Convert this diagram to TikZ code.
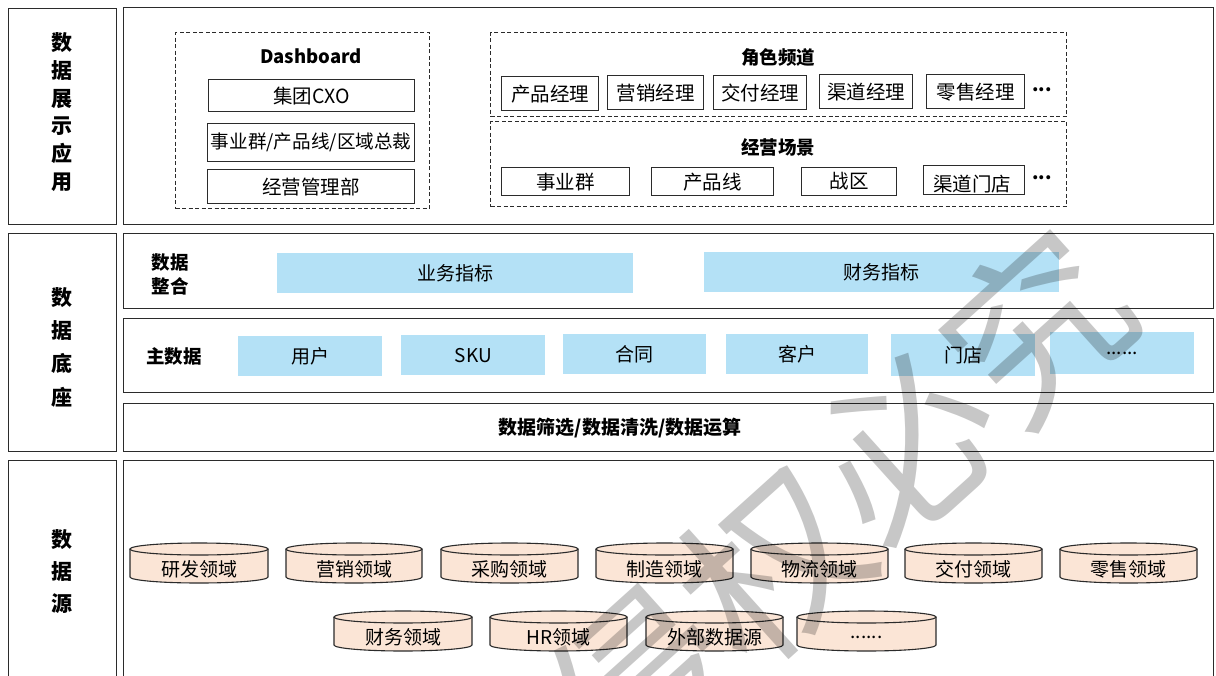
\documentclass[tikz,border=0pt]{standalone}
\usepackage{fontspec}
\setmainfont{Noto Sans CJK SC}
\definecolor{blueA}{HTML}{B4E1F6}
\definecolor{peach}{HTML}{FBE5D6}
\definecolor{edge}{HTML}{2B2B2B}
\newcommand{\dbcyl}[5]{%
  \pgfmathsetmacro{\cxa}{(#2+#3)/2}%
  \pgfmathsetmacro{\rxa}{(#3-#2)/2}%
  \pgfmathsetmacro{\yta}{#4+6}%
  \pgfmathsetmacro{\yba}{#4+34}%
  \pgfmathsetmacro{\yma}{#4+26}%
  \fill[peach] (#2,\yta) rectangle (#3,\yba);
  \fill[peach] (\cxa,\yba) ellipse [x radius=\rxa, y radius=6];
  \draw[cyledge] (#2,\yta) -- (#2,\yba) arc[start angle=180, end angle=0, x radius=\rxa, y radius=6] -- (#3,\yta);
  \draw[cyledge, fill=peach] (\cxa,\yta) ellipse [x radius=\rxa, y radius=6];
  \node[txt] (#1) at (\cxa,\yma) {#5};
}
\begin{document}
\begin{tikzpicture}[x=1pt, y=-1pt,
  panel/.style={draw=edge, line width=1.3pt, inner sep=0pt, anchor=north west},
  dashbox/.style={draw=edge, line width=1.1pt, dash pattern=on 4pt off 2.5pt, inner sep=0pt, anchor=north west},
  item/.style={draw=edge, line width=1.3pt, inner sep=0pt, anchor=north west, font=\fontsize{19.5}{21}\selectfont},
  bluebox/.style={fill=blueA, inner sep=0pt, anchor=north west, font=\fontsize{19}{21}\selectfont},
  txt/.style={inner sep=0pt, font=\fontsize{19}{21}\selectfont},
  btxt/.style={inner sep=0pt, font=\fontsize{18.5}{24}\selectfont\bfseries, align=center},
  side/.style={inner sep=0pt, align=center, font=\fontsize{21}{28}\selectfont\bfseries},
  cyledge/.style={draw=edge, line width=1.1pt}
]
\useasboundingbox (0,0) rectangle (1216,675);
\fill[white] (0,0) rectangle (1216,675);

% ---------- left labels column ----------
\node[panel, minimum width=108pt, minimum height=216pt] (L1) at (8,8) {};
\node[panel, minimum width=108pt, minimum height=218pt] (L2) at (8,233) {};
\node[panel, minimum width=108pt, minimum height=240pt] (L3) at (8,460) {};
\node[side, font=\fontsize{21}{27.8}\selectfont\bfseries] (t1) at (62,112) {数\\据\\展\\示\\应\\用};
\node[side, font=\fontsize{21}{33.3}\selectfont\bfseries] (t2) at (62,347) {数\\据\\底\\座};
\node[side, font=\fontsize{21}{32}\selectfont\bfseries] (t3) at (62,572) {数\\据\\源};

% ---------- right panels ----------
\node[panel, minimum width=1090pt, minimum height=217pt] (R1) at (123,7) {};
\node[panel, minimum width=1090pt, minimum height=75pt] (R2a) at (123,233) {};
\node[panel, minimum width=1090pt, minimum height=74pt] (R2b) at (123,318) {};
\node[panel, minimum width=1090pt, minimum height=48pt] (R2c) at (123,403) {};
\node[panel, minimum width=1090pt, minimum height=240pt] (R3) at (123,460) {};

% ---------- Dashboard ----------
\node[dashbox, minimum width=254pt, minimum height=176pt] (dash) at (175,32) {};
\node[btxt] (dasht) at (311,56) {Dashboard};
\node[item, minimum width=206pt, minimum height=32pt] (cxo) at (208,79) {集团CXO};
\node[item, minimum width=207pt, minimum height=38pt, font=\fontsize{18.6}{21}\selectfont] (bg) at (207,123) {事业群/产品线/区域总裁};
\node[item, minimum width=207pt, minimum height=34pt] (jy) at (207,169) {经营管理部};

% ---------- roles ----------
\node[dashbox, minimum width=576pt, minimum height=84pt] (role) at (490,32) {};
\node[btxt] (rolet) at (778,57) {角色频道};
\node[item, minimum width=97pt, minimum height=34pt] (p1) at (501,76) {产品经理};
\node[item, minimum width=96pt, minimum height=34pt] (p2) at (607,75) {营销经理};
\node[item, minimum width=93pt, minimum height=34pt] (p3) at (713,75) {交付经理};
\node[item, minimum width=93pt, minimum height=34pt] (p4) at (819,74) {渠道经理};
\node[item, minimum width=98pt, minimum height=34pt] (p5) at (926,74) {零售经理};
\node[btxt] (pd) at (1042,90) {...};

% ---------- scenes ----------
\node[dashbox, minimum width=576pt, minimum height=85pt] (scene) at (490,121) {};
\node[btxt] (scenet) at (778,147) {经营场景};
\node[item, minimum width=128pt, minimum height=28pt] (s1) at (501,167) {事业群};
\node[item, minimum width=122pt, minimum height=28pt] (s2) at (651,167) {产品线};
\node[item, minimum width=95pt, minimum height=28pt] (s3) at (801,167) {战区};
\node[item, minimum width=101pt, minimum height=29pt] (s4) at (923,165) {};
\node[txt, font=\fontsize{19.5}{21}\selectfont] (s4t) at (972,184) {渠道门店};
\node[btxt] (sd) at (1042,178) {...};

% ---------- data integration ----------
\node[btxt] (zh) at (170,274) {数据\\整合};
\node[bluebox, minimum width=356pt, minimum height=40pt] (b1) at (277,253) {业务指标};
\node[bluebox, minimum width=355pt, minimum height=40pt] (b2) at (704,252) {财务指标};

% ---------- master data ----------
\node[btxt] (zsj) at (174,356) {主数据};
\node[bluebox, minimum width=144pt, minimum height=40pt] (m1) at (238,336) {用户};
\node[bluebox, minimum width=144pt, minimum height=40pt] (m2) at (401,335) {SKU};
\node[bluebox, minimum width=143pt, minimum height=40pt] (m3) at (563,334) {合同};
\node[bluebox, minimum width=142pt, minimum height=40pt] (m4) at (726,334) {客户};
\node[bluebox, minimum width=144pt, minimum height=42pt] (m5) at (891,334) {门店};
\node[bluebox, minimum width=144pt, minimum height=42pt] (m6) at (1050,332) {......};

% ---------- cleaning ----------
\node[btxt, font=\fontsize{19}{24}\selectfont\bfseries] (clean) at (620,428) {数据筛选/数据清洗/数据运算};

% ---------- data sources ----------
\dbcyl{c1}{130}{268}{543}{研发领域}
\dbcyl{c2}{286}{422}{543}{营销领域}
\dbcyl{c3}{441}{578}{543}{采购领域}
\dbcyl{c4}{596}{733}{543}{制造领域}
\dbcyl{c5}{751}{888}{543}{物流领域}
\dbcyl{c6}{905}{1042}{543}{交付领域}
\dbcyl{c7}{1060}{1197}{543}{零售领域}
\dbcyl{d1}{334}{472}{611}{财务领域}
\dbcyl{d2}{490}{627}{611}{HR领域}
\dbcyl{d3}{646}{783}{611}{外部数据源}
\dbcyl{d4}{797}{936}{611}{......}

% ---------- watermark ----------
\node[inner sep=0pt, rotate=42, text=black, text opacity=0.22, font=\fontsize{178}{178}\selectfont] (wm) at (838,505) {侵权必究};
\end{tikzpicture}
\end{document}
